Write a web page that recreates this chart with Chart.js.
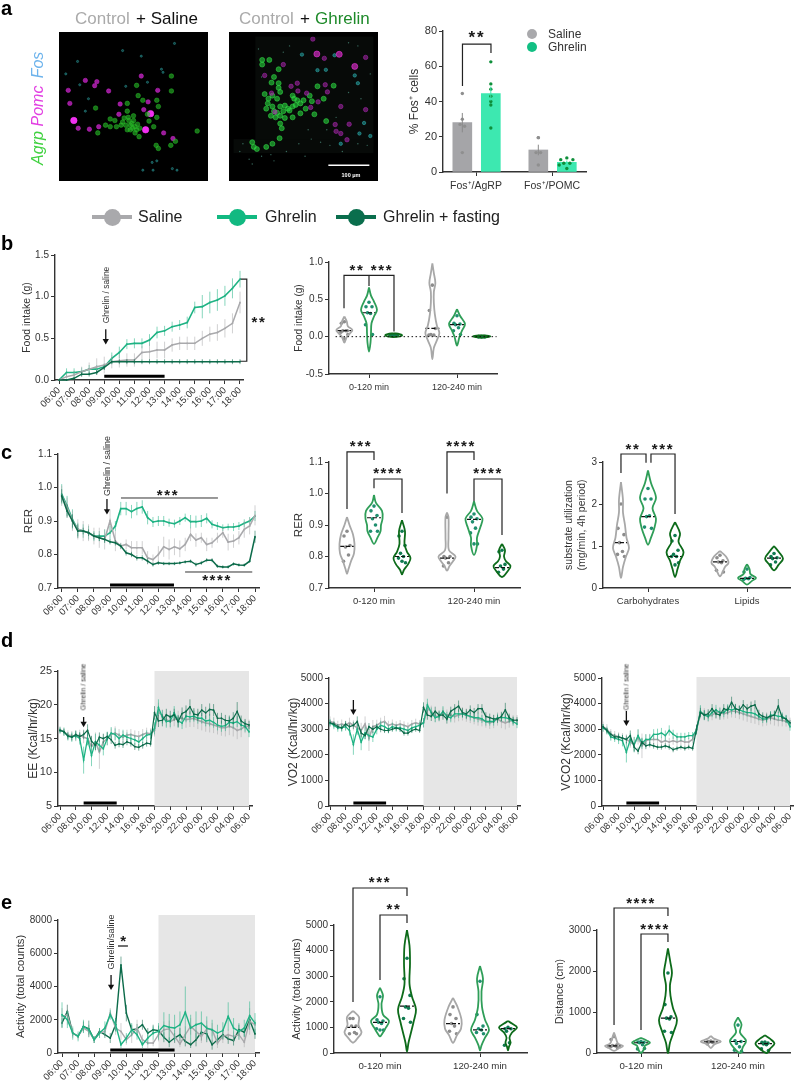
<!DOCTYPE html>
<html>
<head>
<meta charset="utf-8">
<script src="https://cdn.jsdelivr.net/npm/chart.js@4"></script>
<style>
html, body { margin: 0; background: #fff; }
#page { position: relative; width: 795px; height: 1084px; overflow: hidden; font-family: 'Liberation Sans', Arial, sans-serif; filter: blur(0.4px); }
#page canvas { position: absolute; }
.t { position: absolute; white-space: nowrap; line-height: 1; }
.leg { position: absolute; height: 4px; }
.dot { position: absolute; border-radius: 50%; }
</style>
</head>
<body>
<div id="page"></div>
<script>
// ---- colours
const GRAY = '#a9a9ac', LIGHT = '#1fb384', DARK = '#0c6b4a';
const V_GRAY = '#a8a8a8', V_GREEN = '#2f9e58', V_DARK = '#0d6b1a';

// ---- tick labels
const hourTicks = [6, 7, 8, 9, 10, 11, 12, 13, 14, 15, 16, 17, 18];
const hourLabels = ['06:00', '07:00', '08:00', '09:00', '10:00', '11:00', '12:00', '13:00', '14:00', '15:00', '16:00', '17:00', '18:00'];
const dayTicks = [6, 8, 10, 12, 14, 16, 18, 20, 22, 24, 26, 28, 30];
const dayLabels = ['06:00', '08:00', '10:00', '12:00', '14:00', '16:00', '18:00', '20:00', '22:00', '00:00', '02:00', '04:00', '06:00'];
const periods = ['0-120 min', '120-240 min'];
const fosGroups = ['Fos⁺/AgRP', 'Fos⁺/POMC'];
const substrates = ['Carbohydrates', 'Lipids'];

// ---- panel a
const salineBars = [28, 12.5], ghrelinBars = [44.5, 5.5];
const salineBarErr = [5.5, 3], ghrelinBarErr = [4, 1];
const salineDots = [[44.5, 30, 27, 26, 11], [19.5, 19.5, 11, 11, 4]];
const ghrelinDots = [[62.5, 50, 47, 43, 40, 38, 25], [8, 7, 7, 5, 5, 4, 2]];

const leftPomc = [[20,215],[47,295],[83,298],[113,290],[182,217],[178,250],[258,235],[250,127],[70,141],[100,158],[107,145],[15,173],[145,175],[303,173],[272,210],[352,328],[322,310]];
const leftPomcBig = [[33,270],[280,248],[264,300]];
const leftAgrp = [[235,157],[240,190],[347,127],[347,175],[103,230],[205,215],[270,250],[300,205],[305,225],[255,205],[290,290],[275,272],[300,260],[110,310],[150,265],[165,270],[135,285],[150,290],[195,262],[210,270],[225,270],[200,285],[215,285],[230,290],[245,295],[215,300],[230,310],[243,322],[185,285],[170,290],[360,337],[345,350],[430,304],[298,350],[305,360],[205,240],[225,255],[220,280],[235,300],[208,260],[222,295],[238,282],[205,300],[190,275]];
const leftFos = [[357,22],[250,63],[315,105],[320,115],[52,155],[80,200],[270,147],[45,80],[7,120],[285,405],[255,430],[288,430],[365,430],[190,45],[300,400],[70,240],[200,160],[350,425]];

const rightPomc = [[292,70],[425,67],[160,90],[100,125],[185,160],[205,150],[207,175],[295,155],[302,178],[122,182],[235,182],[272,210],[248,228],[133,243],[345,225],[425,235],[327,283],[330,305],[345,312],[372,282],[365,332],[255,8]];
const rightPomcBig = [[268,56],[340,57],[390,96]];
const rightAgrp = [[92,75],[115,75],[92,90],[145,105],[130,130],[122,148],[145,150],[145,165],[150,178],[100,185],[125,190],[140,200],[112,200],[190,190],[195,200],[105,232],[125,225],[150,225],[165,222],[190,225],[200,220],[215,215],[225,205],[252,208],[290,200],[245,190],[270,160],[322,158],[120,255],[135,260],[150,255],[165,262],[190,260],[215,247],[232,232],[260,250],[150,280],[155,295],[298,272],[148,327],[60,340],[65,355],[75,362],[105,355],[125,345],[180,238],[130,240],[110,215],[175,232],[205,205],[140,245],[160,240]];
const rightFos = [[297,107],[325,60],[390,125],[420,278],[405,312],[220,58],[270,108],[440,320],[345,345],[400,150]];
const rightDust = [[30,345],[20,370],[50,395],[90,385],[130,400],[170,370],[210,345],[250,330],[280,340],[310,350],[350,370],[400,345],[430,350],[80,40],[180,30],[370,20],[440,120],[410,200],[120,380],[60,410],[230,385],[300,300],[240,300],[370,180],[330,260],[90,130],[160,50],[400,30]];
const scaleBar = [[305, 414], [437, 414]];

// ---- panel b
const foodGray = [0, .04, .06, .1, .13, .16, .18, .22, .23, .24, .24, .33, .34, .36, .36, .42, .44, .44, .44, .5, .55, .57, .62, .68, .93];
const foodLight = [0, .09, .09, .1, .13, .13, .16, .26, .33, .43, .44, .44, .48, .57, .59, .64, .66, .69, .87, .88, .93, .96, 1.01, 1.1, 1.21];
const foodDark = [0, 0, .02, .07, .07, .09, .15, .22, .22, .22, .22, .22, .22, .22, .22, .22, .22, .22, .22, .22, .22, .22, .22, .22, .22];
const foodGrayErr = [0, .04, .05, .06, .08, .1, .1, .08, .08, .08, .08, .08, .1, .1, .1, .08, .08, .08, .08, .09, .09, .1, .11, .12, .13];
const foodLightErr = [0, .05, .05, .05, .05, .05, .04, .07, .07, .06, .06, .06, .07, .07, .06, .06, .06, .07, .07, .14, .13, .13, .12, .12, .1];
const foodDarkErr = [0, .01, .02, .03, .03, .03, .03, .03, .03, .03, .03, .03, .03, .03, .03, .03, .03, .03, .03, .03, .03, .03, .03, .03, .03];

const foodViolins = [
  [[.27,0],[.2,2.5],[.14,3.5],[.09,8],[.05,6],[0,2.5],[-.08,0]],
  [[.66,0],[.55,2],[.47,5],[.36,8],[.27,5],[.18,2.5],[.05,2],[-.08,1.5],[-.2,0]],
  [[.045,0],[.035,6],[.02,8.5],[.005,6],[-.005,0]],
  [[.98,0],[.85,1.5],[.72,3],[.6,1.5],[.45,1.5],[.3,2.5],[.15,4.5],[.05,7],[-.05,4.5],[-.15,1.5],[-.3,0]],
  [[.37,0],[.28,3],[.17,8],[.08,5],[0,2.5],[-.12,0]],
  [[.018,0],[.012,7],[.003,8.5],[-.006,6],[-.012,0]]
];
const foodDots = [[.2,.18,.08,.08,.08,.06,.03,-.03],[.46,.4,.4,.32,.31,.16,.03],[.02,.02,.02,.02,.02,.02,.02,.02],[.69,.35,.11,.03,.02,.02],[.28,.18,.17,.16,.12,.08,.03],[0,0,0,0,0,0,0,0]];
const foodMedians = [.08, .32, null, .11, .16, null];

// ---- panel c
const rerGray = [.975,.94,.90,.875,.87,.865,.855,.85,.845,.90,.84,.825,.83,.82,.82,.82,.79,.785,.80,.823,.815,.823,.817,.83,.86,.843,.85,.83,.835,.85,.865,.837,.84,.85,.875,.885,.917];
const rerLight = [.98,.945,.905,.875,.87,.865,.855,.855,.855,.865,.885,.937,.937,.928,.937,.942,.91,.897,.90,.90,.895,.892,.90,.91,.898,.898,.90,.908,.89,.885,.88,.882,.882,.885,.893,.90,.915];
const rerDark = [.975,.93,.90,.87,.87,.865,.855,.85,.845,.838,.835,.825,.805,.80,.79,.79,.78,.77,.775,.773,.773,.773,.775,.778,.78,.77,.775,.783,.783,.765,.763,.763,.772,.769,.768,.78,.853];
const rerGrayErr = [.03,.03,.03,.03,.03,.025,.025,.03,.03,.035,.03,.01,.015,.02,.02,.02,.02,.015,.025,.03,.03,.025,.025,.02,.02,.02,.015,.02,.015,.015,.015,.025,.02,.02,.025,.025,.03];
const rerLightErr = [.03,.03,.03,.02,.02,.02,.015,.015,.02,.02,.015,.02,.02,.02,.02,.02,.02,.015,.015,.015,.012,.012,.012,.012,.02,.018,.018,.015,.012,.012,.01,.01,.012,.012,.012,.012,.015];
const rerDarkErr = [.02,.02,.02,.02,.01,.01,.01,.01,.01,.008,.008,.008,.008,.008,.008,.008,.008,.006,.006,.005,.005,.005,.005,.005,.005,.006,.006,.006,.006,.005,.005,.005,.005,.005,.005,.005,.018];

const rerViolins = [
  [[.925,0],[.9,2.5],[.87,6],[.84,7.5],[.81,7],[.785,4],[.76,1.5],[.745,0]],
  [[.995,0],[.97,2],[.945,8],[.92,8.5],[.9,7],[.88,6.5],[.86,3.5],[.84,0]],
  [[.915,0],[.88,3],[.84,2.5],[.815,5],[.795,8.5],[.775,6],[.758,2],[.743,0]],
  [[.94,0],[.925,1.5],[.86,1.5],[.82,2],[.8,8.5],[.785,6],[.77,2.5],[.755,0]],
  [[.975,0],[.945,3],[.92,8.5],[.89,6],[.86,3],[.835,3],[.805,0]],
  [[.84,0],[.82,3],[.8,2],[.785,4],[.77,8.5],[.755,6],[.735,0]]
];
const rerDots = [[.88,.865,.835,.83,.805,.785],[.96,.945,.93,.92,.90,.88,.88],[.88,.865,.835,.81,.80,.795,.78,.785],[.925,.8,.8,.795,.78,.77],[.935,.925,.92,.91,.89,.875,.84,.84],[.82,.815,.775,.77,.76,.75]];
const rerMedians = [.832, .923, .80, .795, .918, .765];

const substrateViolins = [
  [[2.52,0],[2.1,2],[1.8,2],[1.5,4],[1.2,5.5],[.95,8],[.75,5],[.5,2],[.24,0]],
  [[2.8,0],[2.5,3],[2.15,8],[1.9,4.5],[1.65,8],[1.4,6],[1.2,3],[1.03,0]],
  [[1.57,0],[1.3,5],[1.1,3.5],[.85,8.5],[.65,5],[.45,2.5],[.26,0]],
  [[.88,0],[.75,6],[.6,8.5],[.5,5],[.4,3],[.28,0]],
  [[.57,0],[.45,2.5],[.33,3.5],[.24,9],[.17,5],[.08,0]],
  [[1.0,0],[.85,5],[.7,9],[.55,4.5],[.42,0]]
];
const substrateDots = [[2.0,1.42,1.27,1.08,.87,.8,.75],[2.37,2.12,2.12,1.7,1.72,1.45,1.42],[1.25,1.12,.9,.8,.75,.75,.6,.55],[.78,.72,.65,.62,.6,.42,.38],[.45,.38,.25,.23,.22,.2],[.82,.75,.72,.7,.62,.55]];
const substrateMedians = [1.08, 1.7, .75, .62, .23, .71];

// ---- panel d (every 30 min, 06:00 to 06:00)
const eeGray = [16.3,16,15.5,15.4,15.3,15.5,15.2,15,13.8,14.5,13,14.5,15,15.6,15.8,15.5,15.2,15.5,15.6,15.4,15.3,15.6,15.8,15.7,16.2,19,18.3,17.8,17.5,17.8,18,18,17.8,17.9,18,17.7,17.5,17.3,17.2,17,16.8,16.6,16.6,16.8,16.6,16.2,16.4,16.8,16.8];
const eeLight = [16.2,16,15.3,15.2,15.4,15,11.8,15,12.5,14.5,14,13.5,15,15.8,15.6,15,15.5,15.2,15,14.8,14.5,15,15.5,15.6,16.5,19.6,18.2,17.5,17.6,18.8,17.6,17.3,18.3,18.2,18.3,18,18,17.6,17.7,17.4,17,16.8,16.9,17.4,17.3,17.5,17,16.8,16];
const eeDark = [16.2,16,15.4,15.2,15.6,15.3,15.6,16.2,14.6,14,15.2,15,15.3,14.8,14,14.2,14.1,14.5,14.3,13.8,13.7,14,14.3,14.2,18.8,17.6,17.7,18.5,18.2,18.5,17.5,18.7,19,19.7,18.6,18.5,19.2,18.8,19.3,19.2,18,18,17.7,17.6,18,19,17.6,17.2,17];
const eeGrayErr = [.5,.6,.7,.7,.7,.8,.9,1,1.5,1.4,2.5,1.2,1,.9,1,.9,.9,.8,.8,.8,.8,.8,.8,.8,.9,1.3,1,1,1,1,1.1,1.1,1.2,1.2,1.3,1.3,1.3,1.3,1.3,1.2,1.2,1.2,1.3,1.3,1.3,1.3,1.2,1,1];
const eeLightErr = [.5,.6,.6,.7,.7,.9,2,1,1.6,1.2,1,1,1,.9,.9,.8,.8,.7,.7,.7,.7,.7,.7,.7,.9,1.2,1,.9,.9,1,.9,.9,.9,.8,.8,.8,.8,.8,.9,.8,.8,.8,.8,.8,.8,.8,.8,.8,.8];
const eeDarkErr = [.3,.4,.5,.5,.6,.6,.7,.9,.8,.7,.7,.7,.6,.6,.5,.5,.5,.5,.5,.5,.5,.5,.5,.4,1,.9,.9,.9,.9,.9,.9,.9,.9,1.1,.9,.9,.9,.9,.9,.9,.8,.8,.8,.8,.9,1.4,.8,.7,.6];

const vo2Gray = [3300,3250,3150,3200,3150,3250,3150,3050,2950,3200,2650,3100,3150,3250,3300,3150,3200,3150,3200,3150,3100,3200,3250,3200,3250,3800,3700,3500,3500,3650,3550,3550,3500,3550,3600,3550,3500,3450,3400,3350,3300,3250,3300,3400,3300,3250,3300,3350,3350];
const vo2Light = [3250,3150,3050,3050,3100,2950,2400,3000,2500,2850,2750,2700,3000,3150,3100,3000,3100,3050,3050,3000,2950,3050,3100,3150,3250,3950,3650,3450,3500,3700,3500,3450,3600,3600,3600,3550,3500,3450,3450,3400,3300,3300,3300,3450,3450,3450,3400,3300,3200];
const vo2Dark = [3250,3200,3100,3050,3200,3100,3150,3300,2850,2750,3100,3000,3100,3000,2950,2950,3000,3050,3000,2850,2850,2950,3000,2950,3850,3550,3500,3700,3550,3550,3400,3700,3800,3900,3650,3600,3750,3650,3800,3800,3500,3450,3400,3400,3500,3750,3450,3350,3350];
const vo2GrayErr = [200,200,180,180,180,200,200,220,300,300,500,260,220,200,220,180,180,160,160,160,160,160,160,160,180,260,220,220,200,200,220,220,240,240,260,260,260,260,260,240,240,240,260,260,260,260,240,200,200];
const vo2LightErr = [150,150,150,150,160,200,400,220,320,240,200,200,200,180,180,160,160,140,140,140,140,140,140,140,180,240,200,180,180,200,180,180,180,160,160,160,160,160,180,160,160,160,160,160,160,160,160,160,160];
const vo2DarkErr = [100,100,100,110,120,120,140,200,160,140,140,140,120,120,100,100,100,100,100,100,100,100,100,90,200,180,180,180,180,180,180,180,180,220,180,180,180,180,180,180,160,160,160,160,180,280,160,140,120];

const vco2Gray = [3100,3000,2800,2750,2700,2650,2600,2500,2400,2700,2350,2550,2600,2600,2600,2500,2550,2500,2550,2500,2550,2500,2500,2600,3000,3650,3600,3500,3550,3650,3650,3600,3650,3700,3700,3650,3600,3550,3500,3450,3400,3350,3400,3450,3400,3350,3350,3300,3250];
const vco2Light = [3050,2950,2700,2650,2600,2550,2100,2600,2400,2750,2450,2600,2600,2800,2800,2850,2750,2950,2800,2700,2700,2700,2750,2750,2950,3700,3550,3500,3650,3750,3650,3650,3800,3750,3800,3750,3700,3650,3650,3600,3500,3400,3400,3550,3550,3500,3500,3400,3100];
const vco2Dark = [3100,2950,2800,2700,2700,2650,2600,2750,2300,2150,2500,2350,2400,2350,2300,2300,2350,2300,2200,2250,2300,2250,2300,2250,3000,3650,3550,3600,3800,3600,3550,3800,3750,4050,3800,3750,3950,3800,3900,3950,3600,3500,3450,3500,3550,3900,3450,3400,3250];
const vco2GrayErr = [200,200,200,180,180,200,200,220,300,300,480,260,220,200,200,180,180,160,160,160,160,160,160,160,180,240,220,220,200,200,220,220,240,240,260,260,260,260,260,240,240,240,260,260,260,240,240,200,200];
const vco2LightErr = [150,150,150,150,180,220,400,240,300,240,220,200,200,200,220,200,200,200,180,160,160,160,140,140,180,240,200,180,180,200,180,180,180,170,170,160,160,160,180,160,160,160,160,160,160,160,160,160,160];
const vco2DarkErr = [100,100,120,120,130,130,150,200,160,130,140,130,110,110,100,100,100,100,100,90,90,90,90,90,180,180,180,180,180,180,180,180,180,220,190,180,190,180,180,180,160,160,160,160,180,280,160,140,110];

// ---- panel e
const actGray = [2200,2300,1200,1000,1500,1300,800,1200,1300,2400,1500,1300,800,1100,1500,800,600,600,1100,1400,1450,1000,550,1100,1600,1300,1000,1450,1400,600,1000,1100,1000,1100,650,1900,1700];
const actLight = [2300,2000,1200,1000,1600,1400,800,1200,1500,2300,1700,500,900,1400,1100,500,900,1200,1300,1650,1550,1500,1700,2450,1500,1700,1800,1500,1400,1200,1350,2200,1500,1300,1500,2250,1800];
const actDark = [1800,2500,1200,1000,1600,1450,800,1300,1100,900,1700,5300,2400,1400,1450,1700,1200,1400,1350,950,650,900,1100,700,500,800,1250,1150,500,800,1100,850,750,1400,1250,2000,1150];
const actGrayErr = [500,600,300,200,300,300,200,300,300,300,400,500,300,500,500,300,300,200,400,500,500,400,200,500,500,500,400,500,400,300,400,300,300,300,300,800,300];
const actLightErr = [750,500,400,300,400,300,200,300,400,300,400,200,300,400,300,200,400,400,500,800,800,800,800,1550,800,800,700,700,600,500,500,850,600,500,500,850,600];
const actDarkErr = [300,400,200,100,300,500,200,200,200,300,400,500,500,300,300,300,300,300,300,300,300,300,400,300,200,400,500,500,300,300,300,300,300,300,300,300,300];

const activityViolins = [
  [[1650,0],[1400,6],[1100,5.5],[800,8.5],[600,5],[400,0]],
  [[2550,0],[2250,3],[1900,1.5],[1500,3],[1250,9],[1000,6],[800,3],[650,0]],
  [[4800,0],[4200,2.5],[3500,3],[2700,2.5],[2200,5],[1700,9],[1200,6.5],[800,4],[400,1.5],[50,0]],
  [[2150,0],[1800,4.5],[1300,8.5],[950,8],[700,4],[400,0]],
  [[3400,0],[2900,3],[2400,1.5],[1800,2],[1300,5],[900,9],[600,5],[300,1.5],[100,0]],
  [[1250,0],[1150,4],[1000,9],[800,4],[600,1.5],[400,2.5],[250,1],[100,0]]
];
const activityDots = [[1350,1350,1050,1050,800,750,750],[2200,1300,1250,1200,1150,950,900,900],[3700,2900,2250,1800,1750,1350,1200],[1800,1500,1350,1150,1050,850,750],[2800,1500,1050,950,900,800,750],[1000,950,950,850,400,300]];
const activityMedians = [1000, 1200, 1830, 1150, 900, 950];

const distanceViolins = [
  [[500,0],[350,2],[230,4],[170,9],[120,5],[50,0]],
  [[370,0],[300,6],[250,9],[180,4],[100,3],[0,0]],
  [[2550,0],[2200,2.5],[1950,4],[1650,2],[1400,2.5],[1100,5],[800,9],[500,5.5],[250,2],[0,0]],
  [[420,0],[350,3],[280,10],[210,3.5],[120,0]],
  [[870,0],[700,3.5],[500,2],[300,8],[150,5],[0,2]],
  [[430,0],[350,5],[230,9.5],[100,5],[0,2]]
];
const distanceDots = [[400,330,200,180,170,150,130],[280,270,260,250,200,100,110],[1950,1180,880,850,830,530,500],[290,280,270,270,260,220],[680,300,280,230,150,70,40],[270,260,240,220,200,100,60]];
const distanceMedians = [175, 250, 850, 270, 280, 230];

// ---- helpers
Chart.defaults.font.family = "'Liberation Sans', Arial, sans-serif";
Chart.defaults.color = '#333';
Chart.defaults.animation = false;
Chart.defaults.elements.line.capBezierPoints = false;

const page = document.getElementById('page');

function text(str, x, y, o = {}) {
  const el = document.createElement('div');
  el.className = 't';
  el.textContent = str;
  el.style.cssText = `left:${x}px;top:${y}px;font-size:${o.size || 11}px;color:${o.color || '#222'};font-weight:${o.weight || 'normal'};font-style:${o.italic ? 'italic' : 'normal'};letter-spacing:${o.spacing || 0}px;transform:translate(${o.left ? 0 : '-50%'},-50%) rotate(${o.rot || 0}deg)`;
  page.appendChild(el);
  return el;
}
function stars(n, x, y) {
  text('*'.repeat(n), x, y + 3, { size: 15, weight: 'bold', spacing: 1.6, color: '#1a1a1a' });
}

const bandPlugin = {
  id: 'bands',
  beforeDatasetsDraw(chart, args, opts) {
    const { ctx, scales } = chart;
    (opts.list || []).forEach(b => {
      const x1 = scales.x.getPixelForValue(b.x1), x2 = scales.x.getPixelForValue(b.x2);
      const y1 = scales.y.getPixelForValue(b.y2), y2 = scales.y.getPixelForValue(b.y1);
      ctx.fillStyle = b.color;
      ctx.fillRect(x1, Math.min(y1, y2), x2 - x1, Math.abs(y2 - y1));
    });
  }
};

function line(points, color, width, extra = {}) {
  return Object.assign({ data: points, showLine: true, borderColor: color, borderWidth: width, pointRadius: 0, clip: false, fill: false, tension: 0 }, extra);
}
function dots(points, color, r, extra = {}) {
  return Object.assign({ data: points, showLine: false, pointRadius: r, pointBackgroundColor: color, pointBorderWidth: 0, clip: false }, extra);
}
function xy(pairs) { return pairs.map(p => ({ x: p[0], y: p[1] })); }

function arrow(x, y1, y2) {
  return [
    line(xy([[x, y1], [x, y2]]), '#111', 1.3),
    dots(xy([[x, y2]]), '#111', 3.6, { pointStyle: 'triangle', rotation: 180 })
  ];
}
function bar(x1, x2, y) { return line(xy([[x1, y], [x2, y]]), '#000', 3, { borderCapStyle: 'butt' }); }
function bracket(pts) { return line(xy(pts), '#222', 1.2); }

// mean line with its error bars, one value per time step
function series(start, step, means, errs, color, lineW) {
  const whiskers = [], pts = [];
  means.forEach((m, i) => {
    const x = start + i * step;
    pts.push({ x, y: m });
    whiskers.push({ x, y: m - errs[i] }, { x, y: m + errs[i] }, { x, y: null });
  });
  return [
    line(whiskers, color + '99', 0.9, { spanGaps: false }),
    line(pts, color, lineW, { pointRadius: 0.9, pointBackgroundColor: color, pointBorderWidth: 0 })
  ];
}

// one group of violins: outline, median dash, dots
const JITTER = [0, -3, 3, -1.5, 1.5, -3.5, 3.5, 0];
function violins(outlines, dotVals, medians, centres, unit) {
  const colours = [V_GRAY, V_GREEN, V_DARK, V_GRAY, V_GREEN, V_DARK];
  const dotCols = ['#8c8c8c', '#1f8f6f', '#0f7a50', '#8c8c8c', '#1f8f6f', '#0f7a50'];
  const out = [];
  outlines.forEach((v, i) => {
    const c = centres[i];
    const side1 = v.map(p => ({ x: c + p[1] / unit, y: p[0] }));
    const side2 = v.slice().reverse().map(p => ({ x: c - p[1] / unit, y: p[0] }));
    out.push(line(side1.concat(side2.slice(1)), colours[i], 1.8, { tension: 0.35 }));
    if (medians[i] !== null) {
      const hw = 7 / unit;
      out.push(line(xy([[c - hw, medians[i]], [c + hw, medians[i]]]), '#111', 1.2, { borderDash: [4, 2] }));
    }
    const pts = dotVals[i].map((y, j) => ({ x: c + JITTER[j % JITTER.length] / unit, y }));
    out.push(dots(pts, dotCols[i], 1.8));
  });
  return out;
}

function plot(c) {
  const left = c.tx - 7, topPad = c.topPad || 40, bottom = c.bottomH || 48, extra = c.extra || 12;
  const canvas = document.createElement('canvas');
  const w = c.right + extra - left, h = c.bottomY + bottom - (c.topY - topPad);
  canvas.width = w; canvas.height = h;
  canvas.style.left = left + 'px';
  canvas.style.top = (c.topY - topPad) + 'px';
  page.appendChild(canvas);
  const [v1, p1, v2, p2] = c.xAnchor;
  const unit = (p2 - p1) / (v2 - v1);
  const xMin = v1 - (p1 - c.axisX) / unit;
  const xMax = v2 + (c.right - p2) / unit;
  const xLabels = c.xLabels, yTicks = c.yTicks, xTicks = c.xTicks;
  return new Chart(canvas, {
    type: 'scatter',
    plugins: [bandPlugin],
    data: { datasets: c.datasets },
    options: {
      responsive: false,
      maintainAspectRatio: false,
      layout: { padding: { top: topPad, right: extra, left: 0, bottom: 0 } },
      plugins: { legend: { display: false }, tooltip: { enabled: false }, bands: { list: c.bands || [] } },
      scales: {
        x: {
          type: 'linear', min: xMin, max: xMax, offset: false,
          afterBuildTicks: s => { s.ticks = xTicks.map(v => ({ value: v })); },
          afterFit: s => { s.height = bottom; },
          grid: { offset: false, drawOnChartArea: false, drawTicks: true, tickLength: 4, color: '#333', lineWidth: 1 },
          border: { color: '#333', width: 1.4 },
          ticks: {
            autoSkip: false, includeBounds: false, padding: c.rot ? 1 : 4,
            maxRotation: c.rot || 0, minRotation: c.rot || 0,
            font: { size: c.xFont || 9.5 }, color: '#333',
            callback: (v, i) => xLabels[i]
          }
        },
        y: {
          type: 'linear', min: c.yMin, max: c.yMax,
          afterBuildTicks: s => { s.ticks = yTicks.map(v => ({ value: v })); },
          afterFit: s => { s.width = c.axisX - left; },
          grid: { drawOnChartArea: false, drawTicks: true, tickLength: 4, color: '#333', lineWidth: 1 },
          border: { color: '#333', width: 1.4 },
          ticks: { includeBounds: false, padding: 2, font: { size: c.yFont || 10 }, color: '#333', callback: v => c.yFmt ? c.yFmt(v) : String(v) },
          title: { display: true, text: c.yTitle, font: { size: c.titleSize || 11 }, color: '#333', padding: 0 }
        }
      }
    }
  });
}

function micrograph(x, y, size, datasets, bands) {
  const canvas = document.createElement('canvas');
  canvas.width = size; canvas.height = size;
  canvas.style.cssText = `left:${x}px;top:${y}px;background:#000`;
  page.appendChild(canvas);
  return new Chart(canvas, {
    type: 'scatter',
    plugins: [bandPlugin],
    data: { datasets },
    options: {
      responsive: false, maintainAspectRatio: false,
      plugins: { legend: { display: false }, tooltip: { enabled: false }, bands: { list: bands || [] } },
      scales: { x: { display: false, min: 0, max: 450 }, y: { display: false, min: 0, max: 450, reverse: true } }
    }
  });
}
function cells(list, ring, fill, r) {
  return { data: xy(list), showLine: false, pointRadius: r, pointBackgroundColor: fill, pointBorderColor: ring, pointBorderWidth: 0.6 };
}

// ---- panel a
text('a', 1, 8, { size: 20, weight: 'bold', left: true, color: '#000' });
[['Control', '#aaaaaa', 75], ['+ Saline', '#111', 136], ['Control', '#aaaaaa', 239], ['+', '#111', 300], ['Ghrelin', '#1e8a2a', 315]].forEach(t => text(t[0], t[2], 18, { size: 17, color: t[1], left: true }));
[['Agrp', '#3fd13f', 148], ['Pomc', '#e23fe2', 106], ['Fos', '#6db3ec', 65]].forEach(t => text(t[0], 38, t[2], { size: 16, color: t[1], italic: true, rot: -90 }));

micrograph(58.5, 32, 149, [
  cells(leftAgrp, 'rgba(40,190,40,.8)', 'rgba(40,190,40,.6)', 2.3),
  cells(leftFos, 'rgba(60,190,190,.6)', 'rgba(40,170,170,.4)', 1.1),
  cells(leftPomc, 'rgba(200,40,200,.9)', 'rgba(220,40,220,.7)', 2.2),
  cells(leftPomcBig, '#ff38ff', '#f030f0', 3.2)
]);
micrograph(229, 32, 149, [
  { data: xy(rightDust), showLine: false, pointRadius: 0.7, pointBackgroundColor: 'rgba(90,170,150,.6)', pointBorderWidth: 0 },
  cells(rightPomc, 'rgba(170,40,180,.9)', 'rgba(170,40,170,.55)', 2.2),
  cells(rightPomcBig, '#f030e0', 'rgba(240,50,220,.6)', 3),
  cells(rightFos, 'rgba(50,190,190,.8)', 'rgba(40,180,180,.5)', 1.7),
  cells(rightAgrp, 'rgba(50,220,70,.9)', 'rgba(40,210,60,.6)', 2.5),
  line(xy(scaleBar), '#fff', 1.5)
], [{ x1: 70, x2: 450, y1: 0, y2: 355, color: '#070a08' }, { x1: 0, x2: 450, y1: 330, y2: 375, color: '#070a08' }]);
text('100 μm', 351, 175.5, { size: 5.5, color: '#fff', weight: 'bold' });

plot({
  tx: 414, axisX: 443, right: 586, topY: 31, bottomY: 172, bottomH: 30, topPad: 20,
  xAnchor: [1, 476, 2, 552], xTicks: [1, 2], xLabels: fosGroups, xFont: 10.5, yFont: 11,
  yMin: 0, yMax: 80, yTicks: [0, 20, 40, 60, 80], yTitle: '% Fos⁺ cells', titleSize: 12,
  datasets: [
    { type: 'bar', data: salineBars.map((y, i) => ({ x: i + 0.82, y })), backgroundColor: '#a5a5a8', barThickness: 19, grouped: false, order: 5 },
    { type: 'bar', data: ghrelinBars.map((y, i) => ({ x: i + 1.195, y })), backgroundColor: '#3de8b0', barThickness: 19, grouped: false, order: 5 }
  ].concat(
    [[salineBars, salineBarErr, 0.82, '#8a8a8a'], [ghrelinBars, ghrelinBarErr, 1.195, '#3de8b0']].flatMap(s => s[0].map((y, i) => line(xy([[i + s[2], y - s[1][i]], [i + s[2], y + s[1][i]]]), s[3], 1))),
    salineDots.map((vals, g) => dots(vals.map((y, j) => ({ x: g + 0.82 + [0, 0, -.03, .03, 0][j] , y })), '#8f8f8f', 1.7)),
    ghrelinDots.map((vals, g) => dots(vals.map((y, j) => ({ x: g + 1.195 + (g ? [0, -.08, .08, -.04, .04, -.1, 0][j] : 0), y })), '#0e8f3a', 1.7)),
    [bracket([[.822, 48.8], [.822, 72.6], [1.197, 72.6], [1.197, 67.5]])]
  )
});
text('**', 477, 37, { size: 17, weight: 'bold', spacing: 2, color: '#1a1a1a' });
[['Saline', GRAY, 34], ['Ghrelin', '#12bf83', 47]].forEach(l => {
  const d = document.createElement('div');
  d.className = 'dot';
  d.style.cssText = `left:527px;top:${l[2] - 5}px;width:10px;height:10px;background:${l[1]}`;
  page.appendChild(d);
  text(l[0], 548, l[2], { size: 12, left: true, color: '#333' });
});

// top legend
[['Saline', GRAY, 92, 138], ['Ghrelin', '#12b981', 217, 265], ['Ghrelin + fasting', '#0a6e4d', 336, 383]].forEach(l => {
  const b = document.createElement('div');
  b.className = 'leg';
  b.style.cssText = `left:${l[2]}px;top:215px;width:40px;background:${l[1]}`;
  page.appendChild(b);
  const d = document.createElement('div');
  d.className = 'dot';
  d.style.cssText = `left:${l[2] + 11.5}px;top:208.5px;width:17px;height:17px;background:${l[1]}`;
  page.appendChild(d);
  text(l[0], l[3], 217, { size: 16, left: true, color: '#222' });
});

// ---- panel b
text('b', 1, 243, { size: 20, weight: 'bold', left: true, color: '#000' });
plot({
  tx: 28, axisX: 55, right: 243, topY: 255, bottomY: 380.5, bottomH: 48, rot: 45,
  xAnchor: [6, 59, 18, 240], xTicks: hourTicks, xLabels: hourLabels,
  yMin: 0, yMax: 1.5, yTicks: [0, .5, 1, 1.5], yFmt: v => v.toFixed(1), yTitle: 'Food intake (g)', titleSize: 10.5,
  datasets: [
    ...series(6, .5, foodDark, foodDarkErr, DARK, 1.5),
    ...series(6, .5, foodGray, foodGrayErr, GRAY, 1.5),
    ...series(6, .5, foodLight, foodLightErr, LIGHT, 1.6),
    ...arrow(9.1, .61, .47),
    bar(9, 13, .045),
    bracket([[18, 1.21], [18.45, 1.21], [18.45, .225], [18, .225]])
  ]
});
text('Ghrelin / saline', 106, 295, { size: 8.5, rot: -90, color: '#333' });
stars(2, 259, 318);

const groupCentres = [.72, 1, 1.28, 1.72, 2, 2.28];
plot({
  tx: 300, axisX: 329, right: 497, topY: 262, bottomY: 374, bottomH: 30,
  xAnchor: [1, 369, 2, 457], xTicks: [1, 2], xLabels: periods, xFont: 9,
  yMin: -.5, yMax: 1, yTicks: [-.5, 0, .5, 1], yFmt: v => v.toFixed(1), yTitle: 'Food intake (g)', titleSize: 10,
  datasets: [
    line(xy([[.62, 0], [2.45, 0]]), '#111', 1, { borderDash: [1.5, 2.5] }),
    ...violins(foodViolins, foodDots, foodMedians, groupCentres, 88),
    bracket([[.716, .38], [.716, .82], [1.284, .82], [1.284, .07]]),
    bracket([[1, .82], [1, .68]])
  ]
});
stars(2, 357, 266); stars(3, 382, 266);

// ---- panel c
text('c', 1, 452, { size: 20, weight: 'bold', left: true, color: '#000' });
plot({
  tx: 29, axisX: 58, right: 259, topY: 454, bottomY: 588, bottomH: 48, rot: 45,
  xAnchor: [6, 61.7, 18, 255], xTicks: hourTicks, xLabels: hourLabels,
  yMin: .7, yMax: 1.1, yTicks: [.7, .8, .9, 1, 1.1], yFmt: v => v.toFixed(1), yTitle: 'RER', titleSize: 11.5,
  datasets: [
    ...series(6, 1 / 3, rerDark, rerDarkErr, DARK, 1.5),
    ...series(6, 1 / 3, rerGray, rerGrayErr, GRAY, 1.6),
    ...series(6, 1 / 3, rerLight, rerLightErr, LIGHT, 1.6),
    ...arrow(8.81, .966, .93),
    bar(9, 12.97, .709),
    line(xy([[9.68, .9687], [15.7, .9687]]), '#333', 1),
    line(xy([[13.66, .7478], [17.83, .7478]]), '#333', 1)
  ]
});
text('Ghrelin / saline', 107, 466, { size: 9, rot: -90, color: '#333' });
stars(3, 168, 491); stars(4, 217, 576);

plot({
  tx: 299, axisX: 329, right: 520, topY: 462, bottomY: 588, bottomH: 30,
  xAnchor: [1, 374, 2, 474], xTicks: [1, 2], xLabels: periods,
  yMin: .7, yMax: 1.1, yTicks: [.7, .8, .9, 1, 1.1], yFmt: v => v.toFixed(1), yTitle: 'RER', titleSize: 11.5,
  datasets: [
    ...violins(rerViolins, rerDots, rerMedians, [.73, 1, 1.28, 1.73, 2, 2.28], 100),
    bracket([[.73, .951], [.73, 1.132], [1, 1.132], [1, 1.106]]),
    bracket([[1, 1.017], [1, 1.046], [1.28, 1.046], [1.28, .938]]),
    bracket([[1.73, 1.0], [1.73, 1.132], [2, 1.132], [2, 1.106]]),
    bracket([[2, .967], [2, 1.046], [2.28, 1.046], [2.28, .868]])
  ]
});
stars(3, 361, 442); stars(4, 388, 469); stars(4, 461, 442); stars(4, 488, 469);

plot({
  tx: 570, axisX: 603, right: 790, topY: 462, bottomY: 588, bottomH: 30,
  xAnchor: [1, 648, 2, 747], xTicks: [1, 2], xLabels: substrates,
  yMin: 0, yMax: 3, yTicks: [0, 1, 2, 3], yTitle: ['substrate utilization', '(mg/min, 4h period)'], titleSize: 10.5,
  datasets: [
    ...violins(substrateViolins, substrateDots, substrateMedians, [.727, 1, 1.273, 1.727, 2, 2.273], 99),
    bracket([[.727, 2.74], [.727, 3.19], [.98, 3.19], [.98, 2.98]]),
    bracket([[1.03, 2.98], [1.03, 3.19], [1.273, 3.19], [1.273, 1.76]])
  ]
});
stars(2, 633, 445); stars(3, 663, 445);

// ---- panel d
text('d', 1, 640, { size: 20, weight: 'bold', left: true, color: '#000' });
const BAND = '#e6e6e6';
plot({
  tx: 33, axisX: 58, right: 252, topY: 671, bottomY: 806, bottomH: 48, rot: 45,
  xAnchor: [6, 60, 30, 249], xTicks: dayTicks, xLabels: dayLabels, titleSize: 12,
  yMin: 5, yMax: 25, yTicks: [5, 10, 15, 20, 25], yTitle: 'EE (Kcal/hr/kg)', yFont: 11,
  bands: [{ x1: 18, x2: 30, y1: 5, y2: 25, color: BAND }],
  datasets: [
    ...series(6, .5, eeDark, eeDarkErr, DARK, 1.2),
    ...series(6, .5, eeLight, eeLightErr, LIGHT, 1.3),
    ...series(6, .5, eeGray, eeGrayErr, GRAY, 1.6),
    ...arrow(9, 18.2, 17.2),
    bar(9, 13.2, 5.45)
  ]
});
text('Ghrelin / saline', 83, 687, { size: 7, rot: -90, color: '#333' });
plot({
  tx: 293, axisX: 329, right: 520, topY: 678, bottomY: 806, bottomH: 48, rot: 45,
  xAnchor: [6, 330, 30, 517], xTicks: dayTicks, xLabels: dayLabels, titleSize: 12,
  yMin: 0, yMax: 5000, yTicks: [0, 1000, 2000, 3000, 4000, 5000], yTitle: 'VO2 (Kcal/hr/kg)',
  bands: [{ x1: 18, x2: 30, y1: 0, y2: 5040, color: BAND }],
  datasets: [
    ...series(6, .5, vo2Dark, vo2DarkErr, DARK, 1.2),
    ...series(6, .5, vo2Light, vo2LightErr, LIGHT, 1.3),
    ...series(6, .5, vo2Gray, vo2GrayErr, GRAY, 1.6),
    ...arrow(9, 4140, 3700),
    bar(9, 13.2, 117)
  ]
});
plot({
  tx: 566, axisX: 602, right: 793, topY: 678, bottomY: 806, bottomH: 48, rot: 45,
  xAnchor: [6, 603, 30, 790], xTicks: dayTicks, xLabels: dayLabels, titleSize: 12,
  yMin: 0, yMax: 5000, yTicks: [0, 1000, 2000, 3000, 4000, 5000], yTitle: 'VCO2 (Kcal/hr/kg)',
  bands: [{ x1: 18, x2: 30, y1: 0, y2: 5040, color: BAND }],
  datasets: [
    ...series(6, .5, vco2Dark, vco2DarkErr, DARK, 1.2),
    ...series(6, .5, vco2Light, vco2LightErr, LIGHT, 1.3),
    ...series(6, .5, vco2Gray, vco2GrayErr, GRAY, 1.6),
    ...arrow(9, 3711, 3270),
    bar(9, 13.2, 117)
  ]
});
text('Ghrelin / saline', 626, 687, { size: 7, rot: -90, color: '#333' });

// ---- panel e
text('e', 1, 902, { size: 20, weight: 'bold', left: true, color: '#000' });
plot({
  tx: 21, axisX: 58, right: 259, topY: 920, bottomY: 1053, bottomH: 31, rot: 45, topPad: 20,
  xAnchor: [6, 62, 18, 255], xTicks: hourTicks, xLabels: hourLabels, titleSize: 11.2,
  yMin: 0, yMax: 8000, yTicks: [0, 2000, 4000, 6000, 8000], yTitle: 'Activity (total counts)',
  bands: [{ x1: 12, x2: 18, y1: 0, y2: 8300, color: BAND }],
  datasets: [
    ...series(6, 1 / 3, actLight, actLightErr, LIGHT, 1.4),
    ...series(6, 1 / 3, actGray, actGrayErr, GRAY, 1.4),
    ...series(6, 1 / 3, actDark, actDarkErr, DARK, 1.4),
    ...arrow(9.05, 4692, 4000),
    bar(9, 13, 180),
    line(xy([[9.48, 6436], [10.1, 6436]]), '#222', 1.3)
  ]
});
text('Ghrelin/saline', 111, 942, { size: 9, rot: -90, color: '#333' });
stars(1, 124, 937);

plot({
  tx: 297, axisX: 334, right: 527, topY: 925, bottomY: 1053, bottomH: 30,
  xAnchor: [1, 380, 2, 480], xTicks: [1, 2], xLabels: periods, xFont: 9.7, titleSize: 11,
  yMin: 0, yMax: 5000, yTicks: [0, 1000, 2000, 3000, 4000, 5000], yTitle: 'Activity (total counts)',
  datasets: [
    ...violins(activityViolins, activityDots, activityMedians, [.73, 1, 1.27, 1.73, 2, 2.28], 100),
    bracket([[.73, 1992], [.73, 6445], [1.27, 6445], [1.27, 6133]]),
    bracket([[1, 2851], [1, 5390], [1.27, 5390], [1.27, 5078]])
  ]
});
stars(3, 380, 878); stars(2, 394, 905);

plot({
  tx: 561, axisX: 597, right: 790, topY: 930, bottomY: 1053, bottomH: 30,
  xAnchor: [1, 641, 2, 738], xTicks: [1, 2], xLabels: periods, xFont: 9.7, titleSize: 10.5,
  yMin: 0, yMax: 3000, yTicks: [0, 1000, 2000, 3000], yTitle: 'Distance (cm)',
  datasets: [
    ...violins(distanceViolins, distanceDots, distanceMedians, [.722, 1, 1.278, 1.72, 2, 2.278], 97),
    bracket([[.722, 683], [.722, 3537], [1.278, 3537], [1.278, 3341]]),
    bracket([[1, 561], [1, 2902], [1.278, 2902], [1.278, 2707]])
  ]
});
stars(4, 641, 899); stars(4, 655, 925);
</script>
</body>
</html>
